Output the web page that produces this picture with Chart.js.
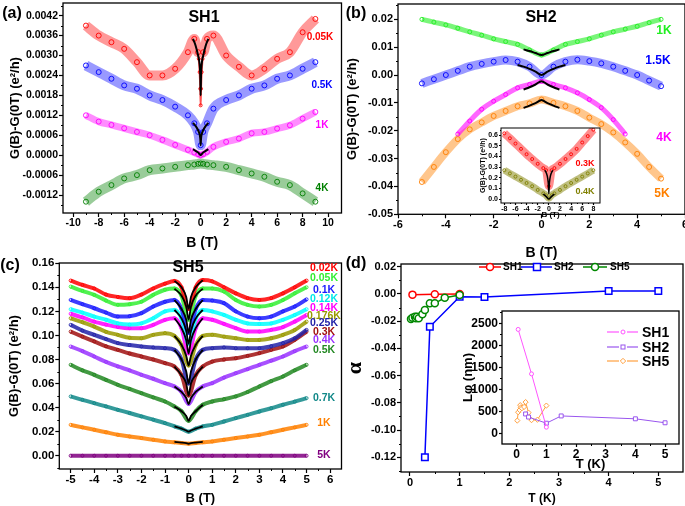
<!DOCTYPE html>
<html><head><meta charset="utf-8">
<script src="https://cdn.jsdelivr.net/npm/chart.js@4.4.0/dist/chart.umd.min.js"></script>
<style>
html,body{margin:0;padding:0;background:#fff;}
#fig{position:relative;width:685px;height:506px;overflow:hidden;font-family:'Liberation Sans',Arial,sans-serif;}
canvas{position:absolute;}
.lbl{position:absolute;font-weight:bold;white-space:nowrap;line-height:1;transform:translate(-50%,-50%);}
.lgt{position:absolute;font-weight:bold;white-space:nowrap;line-height:1;transform:translate(0,-50%);}
</style></head><body>
<div id="fig">
<canvas id="cA" width="345" height="252" style="left:0;top:0"></canvas>
<canvas id="cB" width="345" height="262" style="left:340px;top:0"></canvas>
<canvas id="cBi" width="129" height="100" style="left:476px;top:120px"></canvas>
<canvas id="cC" width="345" height="256" style="left:0;top:250px"></canvas>
<canvas id="cD" width="345" height="256" style="left:340px;top:250px"></canvas>
<canvas id="cDi" width="225" height="172" style="left:460px;top:300px"></canvas>
<svg id="lg" width="685" height="506" style="position:absolute;left:0;top:0"></svg>
</div>
<script>
// ---------------- Panel (a) SH1 ----------------
const Ba = [-9,-8,-7,-6,-5,-4,-3,-2,-1,-0.5,-0.2,0,0.2,0.5,1,2,3,4,5,6,7,8,9];
const a005K = [0.0039,0.0036,0.0034,0.0032,0.0028,0.0024,0.0024,0.0026,0.0031,0.0035,0.0031,null,0.0031,0.0035,0.0036,0.0030,0.00266,0.0024,0.0026,0.0029,0.0031,0.0037,0.0041];
const Ca = [-0.15,-0.08,-0.03,0,0.03,0.08,0.15];
const a005Kcusp = [0.0029,0.0025,0.0020,0.0015,0.0020,0.0025,0.0029];
const a05K  = [0.0027,0.0025,0.0023,0.0021,0.0020,0.0018,0.00166,0.00146,0.0012,0.00096,0.0007,0.0003,0.0007,0.00096,0.0014,0.00166,0.0018,0.0020,0.0021,0.0023,0.0024,0.0026,0.0028];
const a1K   = [0.0012,0.00101,0.00091,0.00081,0.0007,0.0006,0.00046,0.00031,0.00016,0.00008,0.00003,0,0.00003,0.0001,0.00025,0.0004,0.0005,0.00066,0.0007,0.0008,0.0009,0.0011,0.0013];
const a4K   = [-0.0014,-0.0011,-0.0009,-0.0007,-0.0006,-0.00045,-0.0004,-0.00035,-0.0003,-0.00028,-0.00026,-0.00025,-0.00026,-0.00028,-0.0003,-0.00035,-0.00045,-0.00055,-0.00065,-0.0008,-0.0009,-0.00115,-0.0014];
const Fa = [-0.6,-0.4,-0.2,-0.1,-0.03,0,0.03,0.1,0.2,0.4,0.6];
const fitA005K = [0.0035,0.0033,0.0030,0.0028,0.0024,0.0018,0.0024,0.0028,0.0030,0.0033,0.0035];
const fitA05K  = [0.00097,0.00088,0.00075,0.00065,0.00050,0.00030,0.00050,0.00065,0.00075,0.00088,0.00097];
const fitA1K   = [0.00018,0.00013,0.00008,0.00004,0.00001,0,0.00001,0.00004,0.00008,0.00013,0.00018];
const xTicksA = [-10,-8,-6,-4,-2,0,2,4,6,8,10];
const xMinorA = [-9,-7,-5,-3,-1,1,3,5,7,9];
const yTicksA = [-0.0012,-0.0006,0,0.0006,0.0012,0.0018,0.0024,0.0030,0.0036,0.0042];
const yMinorA = [-0.0015,-0.0009,-0.0003,0.0003,0.0009,0.0015,0.0021,0.0027,0.0033,0.0039,0.0045];

// ---------------- Panel (b) SH2 ----------------
const Bb = [-5,-4.5,-4,-3.5,-3,-2.5,-2,-1.5,-1,-0.5,0,0.5,1,1.5,2,2.5,3,3.5,4,4.5,5];
const b1K   = [0.020,0.019,0.018,0.0168,0.0155,0.0143,0.013,0.012,0.011,0.009,0.0072,0.009,0.011,0.012,0.013,0.0143,0.0155,0.0165,0.0175,0.0188,0.020];
const b15K  = [-0.003,-0.0015,0,0.0015,0.003,0.004,0.0048,0.0054,0.0048,0.003,0,0.003,0.0048,0.0055,0.005,0.0042,0.003,0.0015,0,-0.002,-0.004];
const b4K   = [null,null,null,-0.0212,-0.0165,-0.0123,-0.0094,-0.007,-0.0046,-0.0034,-0.0022,-0.0034,-0.0046,-0.0064,-0.0088,-0.0117,-0.016,-0.0212,null,null,null];
const b5K   = [-0.0384,-0.033,-0.0277,-0.023,-0.0195,-0.017,-0.0147,-0.0129,-0.0112,-0.0102,-0.0088,-0.010,-0.0112,-0.0129,-0.0153,-0.0176,-0.0206,-0.0242,-0.0283,-0.033,-0.0372];
const Fb = [-0.75,-0.5,-0.25,0,0.25,0.5,0.75];
const fitB1K = [0.0092,0.0086,0.0079,0.0072,0.0079,0.0086,0.0092];
const fitB4K = [-0.0052,-0.0044,-0.0034,-0.0022,-0.0034,-0.0044,-0.0052];
const fitB5K = [-0.0118,-0.0110,-0.0101,-0.009,-0.0101,-0.0110,-0.0118];
const Fb2 = [-1,-0.75,-0.5,-0.25,0,0.25,0.5,0.75,1];
const fitB15K = [0.0036,0.0030,0.0022,0.0012,0,0.0012,0.0022,0.0030,0.0036];
const xTicksB = [-6,-4,-2,0,2,4,6];
const xMinorB = [-5,-3,-1,1,3,5];
const yTicksB = [-0.05,-0.04,-0.03,-0.02,-0.01,0,0.01,0.02];
const yMinorB = [-0.045,-0.035,-0.025,-0.015,-0.005,0.005,0.015,0.025];
// inset (b)
const Bi = [-8,-7,-6,-5,-4,-3,-2,-1,-0.5,0,0.5,1,2,3,4,5,6,7,8];
const bi03K = [0.616,0.57,0.52,0.47,0.42,0.375,0.33,0.29,0.27,0.12,0.27,0.29,0.33,0.375,0.42,0.47,0.53,0.59,0.65];
const bi04K = [0.27,0.24,0.21,0.18,0.15,0.12,0.085,0.053,0.035,0.006,0.035,0.053,0.085,0.12,0.15,0.18,0.21,0.24,0.27];
const Fi = [-0.7,-0.3,-0.1,0,0.1,0.3,0.7];
const fitBi03K = [0.27,0.22,0.15,0.05,0.15,0.22,0.27];
const Fi2 = [-1,-0.5,0,0.5,1];
const fitBi04K = [0.045,0.025,0,0.025,0.045];
const xTicksBi = [-8,-6,-4,-2,0,2,4,6,8];
const xMinorBi = [-7,-5,-3,-1,1,3,5,7];
const yTicksBi = [0,0.1,0.2,0.3,0.4,0.5,0.6];
const yMinorBi = [0.05,0.15,0.25,0.35,0.45,0.55,0.65];

// ---------------- Panel (c) SH5 ----------------
const Bc = [-5,-4.5,-4,-3.5,-3,-2.5,-2,-1.5,-1,-0.6,-0.3,0,0.3,0.6,1,1.5,2,2.5,3,3.5,4,4.5,5];
const c002K = [0.1456,0.142,0.139,0.134,0.132,0.131,0.134,0.139,0.143,0.1453,0.140,0.122,0.140,0.146,0.145,0.140,0.135,0.131,0.1295,0.131,0.135,0.140,0.1456];
const c005K = [0.1406,0.137,0.1337,0.129,0.1254,0.126,0.128,0.1337,0.138,0.139,0.133,0.113,0.133,0.139,0.139,0.1365,0.1295,0.1254,0.124,0.1254,0.1295,0.135,0.140];
const c01K  = [0.1295,0.126,0.1226,0.119,0.1157,0.116,0.1185,0.124,0.128,0.1295,0.122,0.102,0.122,0.1295,0.129,0.1268,0.120,0.1157,0.1143,0.1157,0.120,0.124,0.130];
const c012K = [0.1218,0.119,0.1157,0.113,0.110,0.109,0.110,0.1143,0.120,0.1212,0.114,0.093,0.114,0.1212,0.120,0.117,0.113,0.110,0.1096,0.110,0.113,0.117,0.1218];
const c014K = [0.118,0.115,0.1115,0.109,0.107,0.106,0.106,0.1088,0.113,0.1143,0.106,0.085,0.106,0.1143,0.113,0.1096,0.106,0.1032,0.1032,0.1046,0.107,0.1115,0.117];
const c0176K= [0.1143,0.111,0.1074,0.103,0.1005,0.098,0.0977,0.1005,0.1019,0.0996,0.092,0.075,0.092,0.0996,0.1005,0.099,0.0977,0.0963,0.0963,0.0977,0.1005,0.1046,0.1115];
const c025K = [0.1088,0.104,0.1005,0.097,0.0936,0.092,0.0908,0.090,0.0894,0.088,0.080,0.060,0.080,0.088,0.0894,0.090,0.0894,0.0894,0.0894,0.091,0.0936,0.0977,0.1046];
const c03K  = [0.1032,0.099,0.095,0.091,0.088,0.085,0.0825,0.080,0.077,0.0742,0.067,0.050,0.067,0.0742,0.0783,0.080,0.0811,0.083,0.0853,0.088,0.0908,0.0963,0.1032];
const c04K  = [0.0908,0.087,0.0825,0.078,0.0742,0.071,0.0673,0.064,0.0603,0.0576,0.053,0.043,0.053,0.0576,0.0603,0.065,0.0686,0.072,0.0756,0.079,0.0825,0.087,0.0908];
const c05K  = [0.0756,0.071,0.0673,0.063,0.059,0.0555,0.052,0.0485,0.0451,0.041,0.037,0.029,0.037,0.0424,0.0451,0.047,0.0493,0.053,0.0576,0.062,0.0659,0.071,0.0756];
const c07K  = [0.0493,0.0465,0.0437,0.041,0.0382,0.0355,0.0327,0.030,0.0271,0.0244,0.0225,0.020,0.0225,0.0244,0.0257,0.0285,0.0313,0.034,0.0368,0.0395,0.0424,0.045,0.0479];
const c1K   = [0.0257,0.0236,0.0216,0.0195,0.0174,0.016,0.0147,0.0133,0.0119,0.0112,0.0106,0.0100,0.0106,0.0112,0.0119,0.0133,0.0147,0.016,0.0174,0.0195,0.0216,0.0236,0.0257];
const c5K   = [0,0,0,0,0,0,0,0,0,0,0,0,0,0,0,0,0,0,0,0,0,0,0];
const Fc = [-0.6,-0.3,-0.1,0,0.1,0.3,0.6];
const fitC = {
  c002K:[0.1453,0.140,0.132,0.122,0.132,0.140,0.146],
  c005K:[0.139,0.133,0.124,0.113,0.124,0.133,0.139],
  c01K:[0.1295,0.122,0.113,0.102,0.113,0.122,0.1295],
  c012K:[0.1212,0.114,0.104,0.093,0.104,0.114,0.1212],
  c014K:[0.1143,0.106,0.096,0.085,0.096,0.106,0.1143],
  c0176K:[0.0996,0.092,0.083,0.075,0.083,0.092,0.0996],
  c025K:[0.088,0.080,0.070,0.060,0.070,0.080,0.088],
  c03K:[0.0742,0.067,0.060,0.050,0.060,0.067,0.0742],
  c04K:[0.0576,0.053,0.048,0.043,0.048,0.053,0.0576],
  c05K:[0.041,0.037,0.033,0.029,0.033,0.037,0.0424],
  c07K:[0.0244,0.0225,0.021,0.020,0.021,0.0225,0.0244],
  c1K:[0.0115,0.011,0.0105,0.0100,0.0105,0.011,0.0115]
};
const xTicksC = [-5,-4,-3,-2,-1,0,1,2,3,4,5,6];
const xMinorC = [-4.5,-3.5,-2.5,-1.5,-0.5,0.5,1.5,2.5,3.5,4.5,5.5];
const yTicksC = [0,0.02,0.04,0.06,0.08,0.10,0.12,0.14,0.16];
const yMinorC = [-0.01,0.01,0.03,0.05,0.07,0.09,0.11,0.13,0.15];

// ---------------- Panel (d) alpha vs T ----------------
const T_SH1 = [0.05,0.5,1.0];
const alpha_SH1 = [-0.0005,-0.0003,0.0];
const T_SH2 = [0.3,0.4,1,1.5,4,5];
const alpha_SH2 = [-0.12,-0.0241,-0.002,-0.0023,0.0021,0.0021];
const T_SH5 = [0.02,0.05,0.1,0.12,0.14,0.176,0.25,0.3,0.4,0.5,0.7,1];
const alpha_SH5 = [-0.0184,-0.0175,-0.0167,-0.0179,-0.0167,-0.0179,-0.015,-0.0118,-0.0069,-0.0069,-0.0028,-0.0008];
const xTicksD = [0,1,2,3,4,5];
const xMinorD = [0.5,1.5,2.5,3.5,4.5];
const yTicksD = [-0.12,-0.10,-0.08,-0.06,-0.04,-0.02,0,0.02];
const yMinorD = [-0.13,-0.11,-0.09,-0.07,-0.05,-0.03,-0.01,0.01];
// inset (d): L_phi
const Lphi_SH1 = [2360,1350,140];
const Lphi_SH2 = [440,370,230,395,330,240];
const Lphi_SH5 = [290,480,530,640,590,570,600,710,470,300,310,630];
const xTicksDi = [0,1,2,3,4,5];
const xMinorDi = [0.5,1.5,2.5,3.5,4.5];
const yTicksDi = [0,500,1000,1500,2000,2500];
const yMinorDi = [250,750,1250,1750,2250,2750];

// ---------------- helpers ----------------
Chart.defaults.font.family = "'Liberation Sans', Arial, 'DejaVu Sans', sans-serif";
Chart.defaults.font.weight = 'bold';
Chart.defaults.color = '#000';

function rgba(hex, a){const n=parseInt(hex.slice(1),16);return `rgba(${n>>16&255},${n>>8&255},${n&255},${a})`;}
function pts(xs, ys){return xs.map((x,i)=>({x:x,y:ys[i]})).filter(p=>p.y!==null);}
function band(xs, ys, color, bw, pr, alpha){
  return {data:pts(xs,ys), borderColor:rgba(color, alpha==null?0.45:alpha), borderWidth:bw,
    pointRadius:pr, pointBorderColor:rgba(color,0.9), pointBackgroundColor:'rgba(255,255,255,0)', pointBorderWidth:1,
    cubicInterpolationMode:'monotone', fill:false, order:1};
}
function fit(xs, ys, w){
  return {data:pts(xs,ys), borderColor:'#000', borderWidth:w||2, pointRadius:0, cubicInterpolationMode:'monotone', fill:false, order:-1};
}

const frameMinor = {
  id:'frameMinor',
  beforeDraw(chart, args, o){
    if(o.fill){const a=chart.chartArea, c=chart.ctx; c.save(); c.fillStyle=o.fill; c.fillRect(a.left,a.top,a.width,a.height); c.restore();}
  },
  afterDraw(chart, args, o){
    const {ctx, chartArea:a, scales:{x,y}} = chart;
    ctx.save();
    ctx.strokeStyle='#000';
    ctx.lineWidth = o.lw || 1.3;
    ctx.strokeRect(a.left, a.top, a.width, a.height);
    ctx.lineWidth = 1;
    ctx.beginPath();
    (o.xMinor||[]).forEach(v=>{const p=Math.round(x.getPixelForValue(v))+0.5; ctx.moveTo(p,a.bottom); ctx.lineTo(p,a.bottom+o.len);});
    (o.yMinor||[]).forEach(v=>{const p=Math.round(y.getPixelForValue(v))+0.5; ctx.moveTo(a.left,p); ctx.lineTo(a.left-o.len,p);});
    ctx.stroke();
    ctx.restore();
  }
};

function makeChart(id, c){
  const cv = document.getElementById(id);
  const W = cv.width, H = cv.height;
  return new Chart(cv, {
    type:'line',
    data:{datasets:c.datasets},
    options:{
      responsive:false, animation:false, devicePixelRatio:1,
      layout:{padding:{left:0, top:c.top, right:W-c.right, bottom:0}, autoPadding:false},
      plugins:{legend:{display:false}, tooltip:{enabled:false},
        frameMinor:{xMinor:c.xMinor, yMinor:c.yMinor, len:c.minorLen||2, lw:c.lw||1.3, fill:c.fill||null}},
      scales:{
        x:{type:'linear', min:c.xMin, max:c.xMax,
          afterBuildTicks:s=>{s.ticks=c.xTicks.map(v=>({value:v}));},
          afterFit:s=>{s.height=H-c.bottom; s.paddingLeft=0; s.paddingRight=0;},
          ticks:{autoSkip:false, maxRotation:0, font:{size:c.tickSize, weight:'bold'}, color:'#000', padding:c.xTickPad||0, callback:c.xFmt},
          grid:{drawOnChartArea:false, tickLength:c.tickLen||4, tickColor:'#000', tickWidth:1.2},
          border:{display:false},
          title:{display:true, text:c.xTitle, color:'#000', font:{size:c.xTitleSize, weight:'bold', family:c.xTitleFamily}, padding:{top:c.xTitlePad, bottom:0}}
        },
        y:{type:'linear', min:c.yMin, max:c.yMax,
          afterBuildTicks:s=>{s.ticks=c.yTicks.map(v=>({value:v}));},
          afterFit:s=>{s.width=c.left; s.paddingTop=0; s.paddingBottom=0;},
          ticks:{autoSkip:false, font:{size:c.tickSize, weight:'bold'}, color:'#000', padding:c.yTickPad||1, callback:c.yFmt},
          grid:{drawOnChartArea:false, tickLength:c.tickLen||4, tickColor:'#000', tickWidth:1.2},
          border:{display:false},
          title:{display:true, text:c.yTitle, color:'#000', font:{size:c.yTitleSize, weight:'bold', family:c.yTitleFamily}, padding:{top:c.yTitlePad, bottom:0}}
        }
      }
    },
    plugins:[frameMinor]
  });
}
function fx(d){return v=>{const s=Number(v).toFixed(d);return /^-0\.0+$/.test(s)?s.slice(1):s;};}
const intFmt = v=>String(Math.round(v));
const YT = 'G(B)-G(0T) (e\u00B2/h)';

// (a)
makeChart('cA', {left:63, top:3, right:341.5, bottom:213,
  xMin:-10.8, xMax:11.05, yMin:-0.00174, yMax:0.00458,
  xTicks:xTicksA, yTicks:yTicksA, xMinor:xMinorA, yMinor:yMinorA,
  xFmt:intFmt, yFmt:fx(4), tickSize:10.5,
  xTitle:'B (T)', xTitleSize:14, xTitlePad:5.6, yTitle:YT, yTitleSize:13, yTitlePad:7.2,
  datasets:[
    band(Ba,a005K,'#ff0000',10,2.5,0.4), band(Ca,a005Kcusp,'#ff0000',2,1.5,0.7),
    band(Ba,a05K,'#0000ff',10,2.5,0.4),
    band(Ba,a1K,'#ff00ff',7,2.5,0.45), band(Ba,a4K,'#008000',10,2.5,0.4),
    fit(Fa,fitA005K), fit(Fa,fitA05K), fit(Fa,fitA1K)
  ]});
// (b)
makeChart('cB', {left:58, top:4, right:682, bottom:214.3,
  xMin:-6, xMax:6, yMin:-0.05, yMax:0.0255,
  xTicks:xTicksB, yTicks:yTicksB, xMinor:xMinorB, yMinor:yMinorB,
  xFmt:intFmt, yFmt:fx(2), tickSize:11,
  xTitle:'B (T)', xTitleSize:14, xTitlePad:5.6, yTitle:YT, yTitleSize:13, yTitlePad:4.2,
  datasets:[
    band(Bb,b1K,'#22ee22',5,2,0.6), band(Bb,b15K,'#0000ff',9,2.5,0.4),
    band(Bb,b4K,'#ff00ff',5,2,0.6), band(Bb,b5K,'#ff8000',8,2.5,0.45),
    fit(Fb,fitB1K), fit(Fb2,fitB15K), fit(Fb,fitB4K), fit(Fb,fitB5K)
  ]});
// inset (b)
makeChart('cBi', {left:25, top:8, right:124, bottom:83,
  xMin:-8.6, xMax:9.2, yMin:-0.0375, yMax:0.666,
  xTicks:xTicksBi, yTicks:yTicksBi, xMinor:xMinorBi, yMinor:yMinorBi, minorLen:1, tickLen:2, lw:1,
  xFmt:intFmt, yFmt:fx(1), tickSize:7, fill:'#ffffff',
  xTitle:'B (T)', xTitleSize:8, xTitlePad:3.2, yTitle:YT, yTitleSize:7, yTitlePad:2.8,
  datasets:[
    band(Bi,bi03K,'#ff0000',8,1.5,0.45), band(Bi,bi04K,'#808000',7,1.5,0.5),
    fit(Fi,fitBi03K,1.5), fit(Fi2,fitBi04K,1.5)
  ]});
// (c)
const cSeries = [
  ['c002K',c002K,'#ff0000'],['c005K',c005K,'#33ee33'],['c01K',c01K,'#1a1aff'],['c012K',c012K,'#00ffff'],
  ['c014K',c014K,'#ff00ff'],['c0176K',c0176K,'#999900'],['c025K',c025K,'#2222a8'],['c03K',c03K,'#a01010'],
  ['c04K',c04K,'#9933ff'],['c05K',c05K,'#228822'],['c07K',c07K,'#118888'],['c1K',c1K,'#ff8000'],['c5K',c5K,'#800080']
];
const cDatasets = [];
cSeries.forEach(([k,v,col])=>{ cDatasets.push(band(Bc,v,col,4,1.5,0.85)); if(fitC[k]) cDatasets.push(fit(Fc,fitC[k],1.8)); });
makeChart('cC', {left:59.3, top:13, right:341.5, bottom:219,
  xMin:-5.48, xMax:6.48, yMin:-0.011, yMax:0.1602,
  xTicks:xTicksC, yTicks:yTicksC, xMinor:xMinorC, yMinor:yMinorC,
  xFmt:intFmt, yFmt:fx(2), tickSize:11.5,
  xTitle:'B (T)', xTitleSize:13, xTitlePad:0.2, yTitle:YT, yTitleSize:13, yTitlePad:6.2,
  datasets:cDatasets});
// (d)
function mk(xs, ys, color, style, r, lw, order){
  return {data:pts(xs,ys), borderColor:color, borderWidth:lw, pointStyle:style, pointRadius:r,
    pointBorderColor:color, pointBackgroundColor:'#ffffff', pointBorderWidth:lw, fill:false, tension:0, order:order||0};
}
makeChart('cD', {left:61, top:14, right:343, bottom:222,
  xMin:-0.181, xMax:5.497, yMin:-0.1308, yMax:0.022,
  xTicks:xTicksD, yTicks:yTicksD, xMinor:xMinorD, yMinor:yMinorD,
  xFmt:intFmt, yFmt:fx(2), tickSize:11,
  xTitle:'T (K)', xTitleSize:12, xTitlePad:0.8, yTitle:'\u03B1', yTitleSize:22, yTitlePad:1.8, yTitleFamily:"'Liberation Serif', 'DejaVu Serif', serif",
  datasets:[
    mk(T_SH1,alpha_SH1,'#ff0000','circle',3.5,1.5,1),
    mk(T_SH2,alpha_SH2,'#0000ff','rect',4.6,1.5,2),
    mk(T_SH5,alpha_SH5,'#008800','circle',3.5,1.5,0)
  ]});
// inset (d)
makeChart('cDi', {left:42, top:11, right:219, bottom:144,
  xMin:-0.495, xMax:5.47, yMin:-242, yMax:2778,
  xTicks:xTicksDi, yTicks:yTicksDi, xMinor:xMinorDi, yMinor:yMinorDi, tickLen:3,
  xFmt:intFmt, yFmt:intFmt, tickSize:12,
  xTitle:'T (K)', xTitleSize:13, xTitlePad:1.2, yTitle:'L\u03C6 (nm)', yTitleSize:13, yTitlePad:0.6,
  datasets:[
    mk(T_SH1,Lphi_SH1,'#ff55ff','circle',2,1,0),
    mk(T_SH2,Lphi_SH2,'#9955ee','rect',2.8,1,1),
    mk(T_SH5,Lphi_SH5,'#ffa040','rectRot',2.6,1,2)
  ]});

// ---------------- text annotations ----------------
const fig = document.getElementById('fig');
function lbl(t,x,y,col,size,cls){const d=document.createElement('div');d.className=cls||'lbl';d.textContent=t;d.style.left=x+'px';d.style.top=y+'px';d.style.color=col;d.style.fontSize=size+'px';fig.appendChild(d);}
[['(a)',12,13],['(b)',356,13],['(c)',10,265],['(d)',356,263]].forEach(p=>lbl(p[0],p[1],p[2],'#000',16));
lbl('SH1',204,17,'#000',16); lbl('SH2',541,17,'#000',16); lbl('SH5',188,267,'#000',16);
[['0.05K',320,37,'#ff0000'],['0.5K',322,85,'#0000ff'],['1K',322,125,'#ff00ff'],['4K',322,188,'#008000']].forEach(p=>lbl(p[0],p[1],p[2],p[3],10));
[['1K',664,30,'#22ee22'],['1.5K',658,60,'#0000ff'],['4K',664,137,'#ff00ff'],['5K',662,193,'#ff8000']].forEach(p=>lbl(p[0],p[1],p[2],p[3],12));
lbl('0.3K',585,163,'#ff0000',9); lbl('0.4K',585,191,'#808000',9);
[['0.02K',267,'#ff0000'],['0.05K',277,'#33ee33'],['0.1K',289,'#1a1aff'],['0.12K',298,'#00e8e8'],['0.14K',307,'#ff00ff'],
 ['0.176K',315,'#999900'],['0.25K',322,'#2222a8'],['0.3K',331,'#a01010'],['0.4K',339,'#9933ff'],['0.5K',349,'#228822'],
 ['0.7K',397,'#118888'],['1K',422,'#ff8000'],['5K',454,'#800080']].forEach(p=>lbl(p[0],324,p[1],p[2],10.5));
// legends for (d)
lbl('SH1',503,267,'#000',10,'lgt'); lbl('SH2',554,267,'#000',10,'lgt'); lbl('SH5',610,267,'#000',10,'lgt');
lbl('SH1',642,332,'#000',14,'lgt'); lbl('SH2',642,347,'#000',14,'lgt'); lbl('SH5',642,361,'#000',14,'lgt');
document.getElementById('lg').innerHTML =
 '<line x1="479" y1="267" x2="501" y2="267" stroke="#ff0000" stroke-width="1.5"/><circle cx="490" cy="267" r="3.5" fill="#fff" stroke="#ff0000" stroke-width="1.5"/>'+
 '<line x1="521" y1="267" x2="552" y2="267" stroke="#0000ff" stroke-width="1.5"/><rect x="533.5" y="263.5" width="7" height="7" fill="#fff" stroke="#0000ff" stroke-width="1.5"/>'+
 '<line x1="583" y1="267" x2="607" y2="267" stroke="#008800" stroke-width="1.5"/><circle cx="595" cy="267" r="3.5" fill="#fff" stroke="#008800" stroke-width="1.5"/>'+
 '<line x1="607" y1="332" x2="619" y2="332" stroke="#ff55ff" stroke-width="1.2"/><line x1="627" y1="332" x2="638" y2="332" stroke="#ff55ff" stroke-width="1.2"/><circle cx="623" cy="332" r="2" fill="#fff" stroke="#ff55ff"/>'+
 '<line x1="607" y1="347" x2="619" y2="347" stroke="#9955ee" stroke-width="1.2"/><line x1="627" y1="347" x2="638" y2="347" stroke="#9955ee" stroke-width="1.2"/><rect x="621" y="345" width="4" height="4" fill="#fff" stroke="#9955ee"/>'+
 '<line x1="607" y1="361" x2="619" y2="361" stroke="#ffa040" stroke-width="1.2"/><line x1="627" y1="361" x2="638" y2="361" stroke="#ffa040" stroke-width="1.2"/><polygon points="623,358.3 625.7,361 623,363.7 620.3,361" fill="#fff" stroke="#ffa040"/>';
</script>
</body></html>
